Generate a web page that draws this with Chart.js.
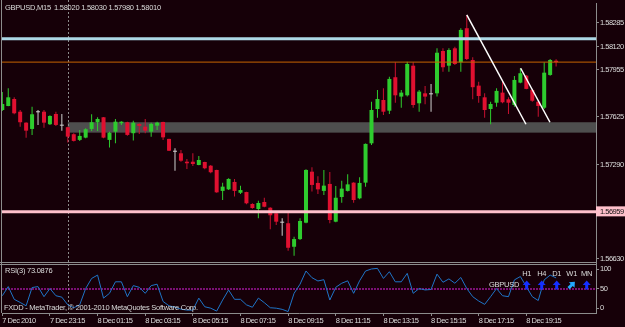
<!DOCTYPE html>
<html>
<head>
<meta charset="utf-8">
<script src="https://cdn.jsdelivr.net/npm/chart.js@4.4.1/dist/chart.umd.min.js"></script>
<style>
  html, body { margin: 0; padding: 0; background: #160008; }
  canvas { display: block; }
</style>
</head>
<body>
<canvas id="mtChart" width="625" height="327"></canvas>
<script>
// GBPUSD M15 candles, bar 0 = 7 Dec 21:15
var opens = [
  1.57674, 1.57702, 1.57751, 1.57662, 1.57585, 1.57541, 1.57658, 1.57662, 1.57574, 1.57646,
  1.57564, 1.57553, 1.57504, 1.57464, 1.57480, 1.57541, 1.57588, 1.57623, 1.57464, 1.57522,
  1.57581, 1.57588, 1.57511, 1.57576, 1.57557, 1.57522, 1.57564, 1.57590, 1.57471, 1.57381,
  1.57370, 1.57311, 1.57311, 1.57288, 1.57309, 1.57283, 1.57253, 1.57106, 1.57117, 1.57169,
  1.57093, 1.57098, 1.57014, 1.56979, 1.57028, 1.56988, 1.56949, 1.56883, 1.56879, 1.56714,
  1.56768, 1.56883, 1.57241, 1.57162, 1.57106, 1.57155, 1.56890, 1.57063, 1.57106, 1.57164,
  1.57054, 1.57164, 1.57440, 1.57681, 1.57744, 1.57669, 1.57904, 1.57768, 1.57777, 1.57985,
  1.57721, 1.57791, 1.57784, 1.57791, 1.58088, 1.57985, 1.58107, 1.58009, 1.58248, 1.58025,
  1.57845, 1.57763, 1.57681, 1.57725, 1.57796, 1.57749, 1.57709, 1.57866, 1.57915, 1.57815,
  1.57732, 1.57690, 1.57920, 1.58020
];
var highs = [
  1.57801, 1.57827, 1.57763, 1.57674, 1.57588, 1.57697, 1.57674, 1.57674, 1.57637, 1.57662,
  1.57646, 1.57557, 1.57511, 1.57534, 1.57546, 1.57644, 1.57623, 1.57625, 1.57522, 1.57611,
  1.57595, 1.57592, 1.57599, 1.57581, 1.57611, 1.57585, 1.57592, 1.57592, 1.57473, 1.57405,
  1.57393, 1.57330, 1.57370, 1.57351, 1.57311, 1.57288, 1.57255, 1.57164, 1.57195, 1.57190,
  1.57143, 1.57100, 1.57019, 1.57037, 1.57058, 1.56991, 1.56953, 1.56914, 1.56958, 1.56785,
  1.56914, 1.57258, 1.57272, 1.57209, 1.57253, 1.57239, 1.57141, 1.57178, 1.57223, 1.57166,
  1.57202, 1.57438, 1.57732, 1.57815, 1.57827, 1.57908, 1.58009, 1.57815, 1.58013, 1.58009,
  1.57815, 1.57843, 1.57857, 1.58107, 1.58107, 1.58107, 1.58118, 1.58248, 1.58341, 1.58044,
  1.57873, 1.57791, 1.57732, 1.57827, 1.57880, 1.57763, 1.57913, 1.57967, 1.57920, 1.57822,
  1.57739, 1.58009, 1.58032, 1.58030
];
var lows = [
  1.57667, 1.57700, 1.57644, 1.57557, 1.57480, 1.57499, 1.57569, 1.57550, 1.57569, 1.57562,
  1.57529, 1.57445, 1.57452, 1.57457, 1.57476, 1.57527, 1.57527, 1.57476, 1.57410, 1.57440,
  1.57569, 1.57494, 1.57459, 1.57506, 1.57511, 1.57487, 1.57534, 1.57464, 1.57386, 1.57248,
  1.57311, 1.57260, 1.57281, 1.57286, 1.57258, 1.57230, 1.57093, 1.57042, 1.57112, 1.57066,
  1.57084, 1.57012, 1.56981, 1.56914, 1.56991, 1.56837, 1.56867, 1.56792, 1.56686, 1.56651,
  1.56761, 1.56879, 1.57101, 1.57084, 1.57077, 1.56879, 1.56886, 1.57023, 1.57101, 1.57023,
  1.57047, 1.57136, 1.57428, 1.57620, 1.57639, 1.57646, 1.57725, 1.57690, 1.57768, 1.57690,
  1.57662, 1.57714, 1.57662, 1.57768, 1.57943, 1.57943, 1.57990, 1.57943, 1.58025, 1.57749,
  1.57725, 1.57620, 1.57574, 1.57697, 1.57721, 1.57646, 1.57697, 1.57862, 1.57820, 1.57732,
  1.57627, 1.57681, 1.57915, 1.57980
];
var closes = [
  1.57716, 1.57763, 1.57651, 1.57588, 1.57529, 1.57644, 1.57658, 1.57585, 1.57632, 1.57569,
  1.57564, 1.57487, 1.57457, 1.57492, 1.57539, 1.57588, 1.57611, 1.57480, 1.57515, 1.57592,
  1.57592, 1.57499, 1.57585, 1.57562, 1.57529, 1.57576, 1.57585, 1.57482, 1.57388, 1.57381,
  1.57318, 1.57300, 1.57295, 1.57323, 1.57265, 1.57237, 1.57096, 1.57136, 1.57190, 1.57106,
  1.57112, 1.57019, 1.56986, 1.57021, 1.56995, 1.56935, 1.56890, 1.56883, 1.56707, 1.56768,
  1.56895, 1.57253, 1.57148, 1.57117, 1.57143, 1.56902, 1.57058, 1.57122, 1.57152, 1.57042,
  1.57162, 1.57436, 1.57674, 1.57751, 1.57662, 1.57892, 1.57777, 1.57796, 1.57997, 1.57709,
  1.57803, 1.57768, 1.57784, 1.58076, 1.57974, 1.58095, 1.57997, 1.58236, 1.58032, 1.57834,
  1.57772, 1.57674, 1.57716, 1.57808, 1.57728, 1.57725, 1.57885, 1.57932, 1.57822, 1.57739,
  1.57702, 1.57936, 1.58025, 1.58010
];
// RSI(3)
var rsiVals = [
  36, 55, 28.5, 22, 15, 53, 55, 34, 51, 36,
  33, 17, 11, 17, 51, 72, 79, 31, 41, 65,
  65, 34, 57, 53.5, 41, 57, 60, 24, 15, 12,
  8, 6, 6, 31, 13, 10, 4, 27, 48, 28.5,
  28.5, 17, 12, 31, 21.5, 11, 10, 7.6, 3, 41,
  60, 87.5, 73.6, 66.7, 69.4, 27, 53.5, 62, 67, 41,
  67, 87.5, 91.7, 93, 72, 86, 65, 65, 82.6, 41,
  51, 48, 49, 81, 64, 71, 62, 74, 51, 34,
  25, 18, 34, 51, 36, 34, 69, 76, 55, 34,
  26, 69, 79, 73.0876
];
var xTickIdx = [0, 8, 16, 24, 32, 40, 48, 56, 64, 72, 80, 88];
var xTickLabels = ['7 Dec 2010', '7 Dec 23:15', '8 Dec 01:15', '8 Dec 03:15', '8 Dec 05:15', '8 Dec 07:15',
  '8 Dec 09:15', '8 Dec 11:15', '8 Dec 13:15', '8 Dec 15:15', '8 Dec 17:15', '8 Dec 19:15'];
var priceTicks = [1.58285, 1.58120, 1.57955, 1.57790, 1.57625, 1.57455, 1.57290, 1.57125, 1.56795, 1.56630];
var levelPrices = [1.58174, 1.58010, 1.56959];
var rsiTickVals = [10, 51, 91.5];
var rsiTickLabels = ['0', '50', '100'];
var rsiLevel = 50;
var bandPrices = [1.57515, 1.57588];
var bandStartIdx = 11;
var daySepIdx = 11;
var trendA = [[78, 1.58341], [87.94, 1.57574]];
var trendB = [[87.05, 1.57967], [91.97, 1.57588]];
var tfNames = ['H1', 'H4', 'D1', 'W1', 'MN'];

var FONT = '"Liberation Sans", Arial, sans-serif';
var TXT = '#dcdcdc';
var FRAME = '#8c8c8c';
var xMin = -0.05, xMax = 99.7;
var levelColors = ['#add8e6', '#c86400', '#ffc0cb'];
var levelWidths = [3, 1, 3];
var levelBack = ['#add8e6', '#ffffff', '#ffc0cb'];

function candleColor(i, wick) {
  if (closes[i] > opens[i]) return '#2ecc2e';
  if (closes[i] < opens[i]) return wick ? '#c81030' : '#e01030';
  return '#d0d0d0';
}

var wickData = opens.map(function (o, i) { return { x: i, y: [lows[i], highs[i]] }; });
var bodyData = opens.map(function (o, i) { return { x: i, y: [o, closes[i]] }; });
var rsiData = rsiVals.map(function (v, i) { return { x: i, y: v }; });

var datasets = [
  { type: 'bar', data: wickData, grouped: false, maxBarThickness: 1, borderWidth: 0,
    backgroundColor: function (c) { return candleColor(c.dataIndex, true); }, order: 9 },
  { type: 'bar', data: bodyData, grouped: false, maxBarThickness: 4, minBarLength: 1, borderWidth: 0,
    backgroundColor: function (c) { return candleColor(c.dataIndex, false); }, order: 8 }
];
levelPrices.forEach(function (p, k) {
  datasets.push({ type: 'line', data: [{ x: xMin, y: p }, { x: xMax, y: p }],
    borderColor: levelColors[k], borderWidth: levelWidths[k], pointRadius: 0, order: 3 });
});
[trendA, trendB].forEach(function (t) {
  datasets.push({ type: 'line', data: t.map(function (q) { return { x: q[0], y: q[1] }; }),
    borderColor: '#ffffff', borderWidth: 1.5, pointRadius: 0, order: 1 });
});
datasets.push({ type: 'line', yAxisID: 'rsi', data: [{ x: xMin, y: rsiLevel }, { x: xMax, y: rsiLevel }],
  borderColor: '#e020e0', borderWidth: 1, borderDash: [2, 1], pointRadius: 0, order: 6 });
datasets.push({ type: 'line', yAxisID: 'rsi', data: rsiData,
  borderColor: '#1f74c8', borderWidth: 1, pointRadius: 0, tension: 0, order: 5 });

function isLevel(v) { return levelPrices.indexOf(v) >= 0; }

function drawUpArrow(ctx, cx, top, color, angle) {
  ctx.save();
  ctx.translate(cx, top + 4);
  ctx.rotate(angle);
  ctx.fillStyle = color;
  ctx.beginPath();
  ctx.moveTo(0, -4.5);
  ctx.lineTo(4, 0);
  ctx.lineTo(1.5, 0);
  ctx.lineTo(1.5, 4.5);
  ctx.lineTo(-1.5, 4.5);
  ctx.lineTo(-1.5, 0);
  ctx.lineTo(-4, 0);
  ctx.closePath();
  ctx.fill();
  ctx.restore();
}

// tighter letter spacing, closer to the terminal's small bitmap font
var tightText = {
  id: 'tightText',
  beforeUpdate: function (chart) { chart.ctx.letterSpacing = '-0.5px'; },
  beforeDraw: function (chart) { chart.ctx.letterSpacing = '-0.5px'; }
};

var mtDecor = {
  id: 'mtDecor',
  beforeDatasetsDraw: function (chart) {
    var ctx = chart.ctx, a = chart.chartArea, xs = chart.scales.x, ys = chart.scales.y;
    ctx.save();
    var x0 = xs.getPixelForValue(bandStartIdx);
    var yt = ys.getPixelForValue(bandPrices[1]), yb = ys.getPixelForValue(bandPrices[0]);
    ctx.fillStyle = '#4e4e4e';
    ctx.fillRect(x0, yt, a.right - x0, yb - yt);
    var sx = Math.round(xs.getPixelForValue(daySepIdx)) + 0.5;
    ctx.strokeStyle = '#8a8a8a';
    ctx.setLineDash([2, 2]);
    ctx.beginPath();
    ctx.moveTo(sx, 0);
    ctx.lineTo(sx, a.bottom);
    ctx.stroke();
    ctx.restore();
  },
  afterDatasetsDraw: function (chart) {
    var ctx = chart.ctx, a = chart.chartArea, ys = chart.scales.y;
    ctx.save();
    // panel separator and frame
    var sepY = Math.round(ys.bottom);
    ctx.fillStyle = '#160008';
    ctx.fillRect(a.left, sepY, a.right - a.left, 3);
    ctx.strokeStyle = FRAME;
    ctx.lineWidth = 1;
    ctx.beginPath();
    ctx.moveTo(0, sepY + 0.5); ctx.lineTo(a.right, sepY + 0.5);
    ctx.moveTo(0, sepY + 2.5); ctx.lineTo(a.right, sepY + 2.5);
    ctx.moveTo(1.5, 0); ctx.lineTo(1.5, a.bottom);
    ctx.stroke();
    // texts
    var n = closes.length - 1;
    ctx.letterSpacing = '-0.25px';
    ctx.font = '7.5px ' + FONT;
    ctx.fillStyle = TXT;
    ctx.textBaseline = 'middle';
    ctx.textAlign = 'left';
    ctx.fillText('GBPUSD,M15', 5, 7.5);
    ctx.fillText([opens[n], highs[n], lows[n], closes[n]].map(function (v) { return v.toFixed(5); }).join(' '), 54, 7.5);
    ctx.fillText('RSI(3) ' + rsiVals[n].toFixed(4), 5, sepY + 9);
    ctx.fillText('FXDD - MetaTrader, \u00a9 2001-2010 MetaQuotes Software Corp.', 4, a.bottom - 5);
    ctx.fillText('GBPUSD', a.right - 107, sepY + 23);
    ctx.textAlign = 'center';
    tfNames.forEach(function (t, k) {
      var cx = a.right - 69.3 + k * 15;
      ctx.fillStyle = TXT;
      ctx.fillText(t, cx, sepY + 12);
      if (t === 'W1') drawUpArrow(ctx, cx, sepY + 19, '#22a8ff', Math.PI / 4);
      else drawUpArrow(ctx, cx, sepY + 19, '#1430ff', 0);
    });
    ctx.restore();
  }
};

var tickFont = { family: FONT, size: 7.5 };

new Chart(document.getElementById('mtChart'), {
  type: 'bar',
  data: { datasets: datasets },
  plugins: [tightText, mtDecor],
  options: {
    responsive: false,
    animation: false,
    devicePixelRatio: 1,
    layout: { padding: { left: 2, top: 3, right: 0, bottom: 0 } },
    plugins: { legend: { display: false }, tooltip: { enabled: false } },
    scales: {
      x: {
        type: 'linear', min: xMin, max: xMax, position: 'bottom', offset: false,
        afterBuildTicks: function (s) { s.ticks = xTickIdx.map(function (v) { return { value: v }; }); },
        afterFit: function (s) { s.height = 14; s.paddingLeft = 0; s.paddingRight = 0; },
        ticks: { autoSkip: false, maxRotation: 0, minRotation: 0, align: 'start', padding: 0,
          color: TXT, font: tickFont, callback: function (v, i) { return xTickLabels[i]; } },
        grid: { drawOnChartArea: false, offset: false, tickLength: 3, color: FRAME },
        border: { color: FRAME }
      },
      y: {
        type: 'linear', position: 'right', stack: 'win', stackWeight: 259,
        min: 1.56607, max: 1.58425,
        afterBuildTicks: function (s) {
          s.ticks = priceTicks.concat(levelPrices).sort(function (p, q) { return p - q; })
            .map(function (v) { return { value: v }; });
        },
        afterFit: function (s) { s.width = 29; s.paddingTop = 0; s.paddingBottom = 0; },
        ticks: {
          padding: 1, font: tickFont,
          color: function (c) { return isLevel(c.tick.value) ? '#101010' : TXT; },
          showLabelBackdrop: function (c) { return isLevel(c.tick.value); },
          backdropColor: function (c) { var k = levelPrices.indexOf(c.tick.value); return k >= 0 ? levelBack[k] : 'rgba(0,0,0,0)'; },
          backdropPadding: { left: 4, right: 4, top: 1, bottom: 0 },
          callback: function (v) { return v.toFixed(5); }
        },
        grid: { drawOnChartArea: false, tickLength: 3,
          color: function (c) { return c.tick && isLevel(c.tick.value) ? 'rgba(0,0,0,0)' : FRAME; } },
        border: { color: FRAME }
      },
      rsi: {
        type: 'linear', position: 'right', stack: 'win', stackWeight: 51,
        min: 0, max: 106.25,
        afterBuildTicks: function (s) { s.ticks = rsiTickVals.map(function (v) { return { value: v }; }); },
        afterFit: function (s) { s.width = 29; s.paddingTop = 0; s.paddingBottom = 0; },
        ticks: { padding: 1, font: tickFont, color: TXT,
          callback: function (v, i) { return rsiTickLabels[i]; } },
        grid: { drawOnChartArea: false, tickLength: 3, color: FRAME },
        border: { color: FRAME }
      }
    }
  }
});
</script>
</body>
</html>
